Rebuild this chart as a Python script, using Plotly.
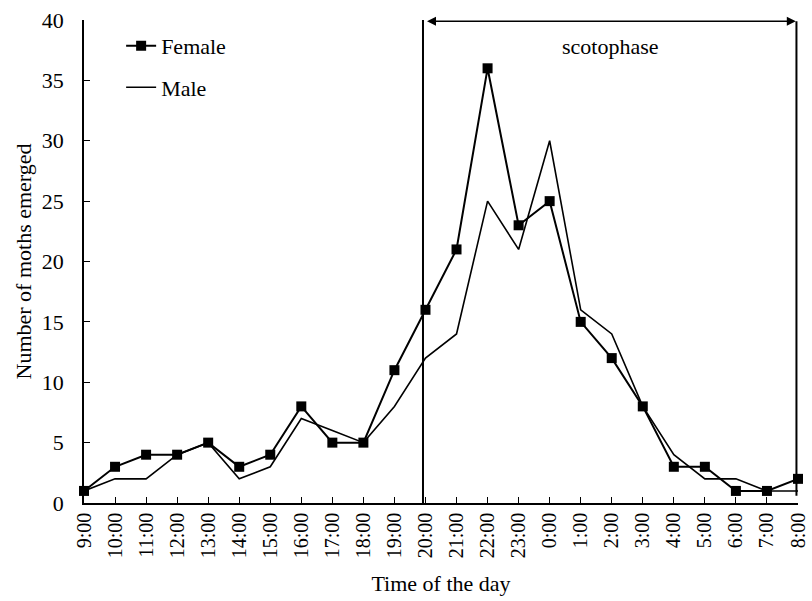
import plotly.graph_objects as go

times = ["9:00","10:00","11:00","12:00","13:00","14:00","15:00","16:00","17:00","18:00",
         "19:00","20:00","21:00","22:00","23:00","0:00","1:00","2:00","3:00","4:00",
         "5:00","6:00","7:00","8:00"]
female = [1,3,4,4,5,3,4,8,5,5,11,16,21,36,23,25,15,12,8,3,3,1,1,2]
male = [1,2,2,4,5,2,3,7,6,5,8,12,14,25,21,30,16,14,8,4,2,2,1,1]
y_ticks = [0,5,10,15,20,25,30,35,40]

xs = list(range(len(times)))
FONT = "Liberation Serif, Times New Roman, serif"

fig = go.Figure()
fig.add_trace(go.Scatter(x=xs, y=female, mode="lines+markers", name="Female",
                         line=dict(color="black", width=2),
                         marker=dict(symbol="square", size=10, color="black"),
                         cliponaxis=False, legendgroup="f"))
fig.add_trace(go.Scatter(x=xs, y=male, mode="lines", name="Male",
                         line=dict(color="black", width=1.6),
                         cliponaxis=False, legendgroup="m"))

# scotophase bracket
start = times.index("20:00")
end = times.index("8:00")
fig.add_shape(type="line", x0=start - 0.08, x1=start - 0.08, y0=0, y1=40.1,
              line=dict(color="black", width=2))
fig.add_shape(type="line", x0=end - 0.05, x1=end - 0.05, y0=0.6, y1=39.9,
              line=dict(color="black", width=2))
fig.add_annotation(x=end - 0.07, y=39.9, ax=start, ay=39.9, xref="x", yref="y",
                   axref="x", ayref="y", text="", showarrow=True,
                   arrowhead=2, arrowsize=1.2, arrowwidth=1.5, arrowside="end+start",
                   arrowcolor="black")
fig.add_annotation(x=16.95, y=37.8, xref="x", yref="y", text="scotophase",
                   showarrow=False, font=dict(family=FONT, size=22, color="black"))

fig.update_layout(
    width=812, height=601,
    margin=dict(l=84, r=14, t=20, b=98),
    paper_bgcolor="white", plot_bgcolor="white",
    font=dict(family=FONT, size=22, color="black"),
    showlegend=True,
    legend=dict(x=0.052, y=0.99, xanchor="left", yanchor="top",
                bgcolor="rgba(0,0,0,0)", font=dict(family=FONT, size=22),
                traceorder="grouped", tracegroupgap=10, itemwidth=30),
    xaxis=dict(range=[0, 23], tickmode="array", tickvals=xs, ticktext=times,
               tickangle=-90, ticks="inside", ticklen=6, tickcolor="black",
               ticklabeloverflow="allow", automargin=False,
               showline=True, linecolor="black", linewidth=1.5, showgrid=False,
               zeroline=False, tickfont=dict(family=FONT, size=20),
               title=dict(text="Time of the day", font=dict(family=FONT, size=22), standoff=18)),
    yaxis=dict(range=[0, 40], tickvals=y_ticks, ticks="inside", ticklen=6,
               tickcolor="black", showline=True, linecolor="black", linewidth=1.5,
               ticklabelstandoff=14, automargin=False,
               showgrid=False, zeroline=False, tickfont=dict(family=FONT, size=22),
               title=dict(text="Number of moths emerged", font=dict(family=FONT, size=22), standoff=4)),
)

fig.write_html("out.html")
